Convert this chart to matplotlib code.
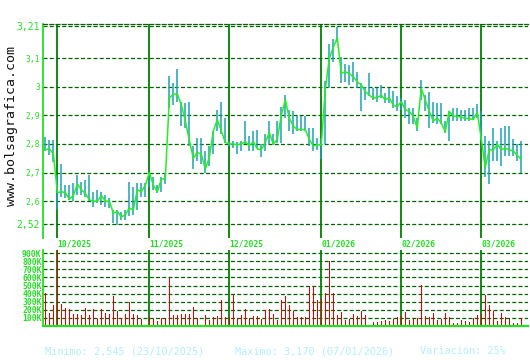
import matplotlib
matplotlib.use('Agg')
import matplotlib.pyplot as plt
import matplotlib.transforms as mtransforms

# ---------------- data ----------------
close = [2.78, 2.783, 2.765, 2.63, 2.633, 2.63, 2.607, 2.62, 2.66, 2.64,
         2.627, 2.605, 2.60, 2.60, 2.62, 2.60, 2.60, 2.558, 2.564, 2.545,
         2.553, 2.576, 2.57, 2.64, 2.633, 2.656, 2.70, 2.656, 2.633, 2.676,
         2.68, 2.96, 2.974, 2.974, 2.937, 2.88, 2.813, 2.75, 2.77, 2.764,
         2.713, 2.753, 2.845, 2.885, 2.845, 2.805, 2.80, 2.80, 2.797, 2.80,
         2.808, 2.793, 2.808, 2.782, 2.78, 2.805, 2.84, 2.80, 2.816, 2.90,
         2.954, 2.89, 2.862, 2.85, 2.85, 2.85, 2.816, 2.793, 2.797, 2.797,
         2.99, 3.098, 3.138, 3.17, 3.046, 3.052, 3.046, 3.034, 3.017, 3.006,
         2.983, 2.97, 2.96, 2.962, 2.97, 2.954, 2.962, 2.935, 2.93, 2.948,
         2.92, 2.914, 2.897, 2.856, 2.994, 2.954, 2.914, 2.88, 2.89, 2.874,
         2.843, 2.914, 2.897, 2.897, 2.893, 2.89, 2.888, 2.885, 2.91, 2.82,
         2.718, 2.78, 2.778, 2.80, 2.78, 2.785, 2.78, 2.776, 2.76, 2.747]

high = [2.825, 2.814, 2.814, 2.69, 2.73, 2.656, 2.656, 2.662, 2.69, 2.668,
        2.673, 2.69, 2.633, 2.64, 2.633, 2.62, 2.61, 2.57, 2.57, 2.564,
        2.57, 2.668, 2.65, 2.662, 2.662, 2.662, 2.702, 2.685, 2.656, 2.685,
        2.70, 3.038, 3.011, 3.063, 2.948, 2.943, 2.946, 2.793, 2.822, 2.822,
        2.776, 2.793, 2.845, 2.92, 2.948, 2.89, 2.81, 2.81, 2.808, 2.81,
        2.88, 2.828, 2.845, 2.847, 2.80, 2.833, 2.88, 2.833, 2.88, 2.93,
        2.97, 2.92, 2.914, 2.897, 2.897, 2.897, 2.856, 2.856, 2.822, 2.822,
        3.02, 3.15, 3.167, 3.207, 3.103, 3.08, 3.077, 3.086, 3.052, 3.011,
        3.0, 3.046, 2.994, 2.994, 3.006, 2.977, 2.994, 2.985, 2.966, 2.96,
        2.954, 2.925, 2.925, 2.89, 3.023, 2.971, 2.983, 2.948, 2.943, 2.943,
        2.88, 2.916, 2.925, 2.925, 2.92, 2.92, 2.925, 2.925, 2.94, 2.914,
        2.828, 2.81, 2.856, 2.81, 2.856, 2.862, 2.862, 2.816, 2.80, 2.81]

low = [2.777, 2.76, 2.737, 2.57, 2.616, 2.61, 2.605, 2.60, 2.62, 2.62,
       2.616, 2.60, 2.58, 2.593, 2.587, 2.58, 2.576, 2.524, 2.518, 2.535,
       2.535, 2.547, 2.553, 2.57, 2.616, 2.616, 2.65, 2.64, 2.628, 2.633,
       2.66, 2.925, 2.937, 2.948, 2.862, 2.856, 2.793, 2.713, 2.741, 2.73,
       2.70, 2.724, 2.764, 2.845, 2.833, 2.805, 2.793, 2.787, 2.764, 2.776,
       2.80, 2.776, 2.776, 2.787, 2.753, 2.776, 2.80, 2.795, 2.805, 2.805,
       2.89, 2.845, 2.833, 2.845, 2.845, 2.845, 2.793, 2.776, 2.78, 2.747,
       2.80, 2.994, 3.086, 3.155, 3.011, 3.017, 3.006, 3.017, 2.994, 2.916,
       2.954, 2.966, 2.954, 2.948, 2.96, 2.943, 2.943, 2.925, 2.914, 2.92,
       2.89, 2.868, 2.868, 2.845, 2.954, 2.914, 2.856, 2.874, 2.868, 2.868,
       2.839, 2.81, 2.88, 2.88, 2.88, 2.88, 2.88, 2.885, 2.89, 2.81,
       2.684, 2.659, 2.741, 2.741, 2.724, 2.758, 2.758, 2.758, 2.741, 2.70]

volume_k = [405, 165, 260, 940, 273, 223, 207, 150, 150, 136,
            223, 136, 207, 87, 207, 161, 150, 372, 186, 99,
            150, 298, 150, 136, 87, 12, 107, 87, 62, 99,
            99, 595, 136, 136, 150, 150, 150, 231, 99, 12,
            136, 74, 107, 124, 322, 107, 116, 384, 99, 136,
            207, 99, 124, 124, 87, 198, 207, 150, 74, 322,
            372, 260, 186, 107, 107, 107, 488, 496, 322, 331,
            405, 806, 405, 136, 178, 74, 87, 150, 124, 186,
            136, 12, 50, 50, 62, 74, 62, 87, 107, 120,
            174, 74, 87, 99, 504, 124, 107, 161, 74, 87,
            161, 107, 33, 33, 74, 62, 50, 99, 136, 150,
            384, 260, 186, 62, 161, 107, 87, 33, 33, 99]

month_labels = ['10/2025', '11/2025', '12/2025', '01/2026', '02/2026', '03/2026']
month_index = [3, 26, 46, 69, 89, 109]

price_ticks = [2.52, 2.6, 2.7, 2.8, 2.9, 3.0, 3.1, 3.21]
price_tick_labels = ['2,52', '2,6', '2,7', '2,8', '2,9', '3', '3,1', '3,21']
vol_ticks = [100, 200, 300, 400, 500, 600, 700, 800, 900]
vol_tick_labels = ['100K', '200K', '300K', '400K', '500K', '600K', '700K', '800K', '900K']

footer_min = 'Minimo: 2,545 (23/10/2025)'
footer_max = 'Maximo: 3,170 (07/01/2026)'
footer_var = 'Variación: 25%'
watermark = 'www.bolsagrafica.com'

# ---------------- styles ----------------
W, H = 530, 360
MONO = 'DejaVu Sans Mono'
GRID = '#006400'
MONTH = '#008000'
BRIGHT = '#22e022'
TEAL = '#1ba2b4'
LINE = '#22f022'
RED = '#e00000'
FOOT = '#b4eefa'

fig = plt.figure(figsize=(W / 100, H / 100), dpi=100)
fig.patch.set_facecolor('white')

x = list(range(len(close)))
xlim = (-0.6, 120.7)

# ---------------- price axes ----------------
ax = fig.add_axes([43 / W, 1 - 238 / H, 485 / W, 214 / H])
ax.set_xlim(*xlim)
ax.set_ylim(2.4716, 3.2187)
for t in price_ticks:
    ax.axhline(t, color=GRID, lw=0.9, dashes=(3.2, 1.8), zorder=1)
for m in month_index:
    ax.axvline(m, color=MONTH, lw=1.3, zorder=1.5)
ax.vlines(x, low, high, color=TEAL, lw=1.1, zorder=2)
ax.plot(x, close, color=LINE, lw=1.1, zorder=3)

ax.set_yticks(price_ticks)
ax.set_yticklabels(price_tick_labels, family=MONO, color=BRIGHT)
for lab in ax.get_yticklabels():
    if lab.get_text() in ('3,21', '2,52'):
        lab.set_fontsize(7)
    else:
        lab.set_fontsize(5.8)
ax.tick_params(axis='y', length=0, pad=2.2)
ax.set_xticks([])
for s in ('right', 'bottom'):
    ax.spines[s].set_visible(False)
ax.spines['top'].set_color(GRID)
ax.spines['top'].set_linestyle((0, (3.2, 1.8)))
ax.spines['top'].set_linewidth(0.9)
ax.spines['left'].set_color(BRIGHT)
ax.spines['left'].set_linewidth(1.3)

trans = mtransforms.blended_transform_factory(ax.transData, ax.transAxes)
for m, lab in zip(month_index, month_labels):
    ax.text(m, -0.028, lab, transform=trans, ha='left', va='center',
            family=MONO, fontsize=5.8, fontweight='bold', color=BRIGHT)

# ---------------- volume axes ----------------
axv = fig.add_axes([43 / W, 1 - 326 / H, 485 / W, 76 / H])
axv.set_xlim(*xlim)
axv.set_ylim(0, 940)
for t in vol_ticks:
    axv.axhline(t, color=GRID, lw=0.9, dashes=(3.2, 1.8), zorder=1)
for m in month_index:
    axv.axvline(m, color=MONTH, lw=1.3, zorder=1.5)
axv.bar(x, volume_k, width=0.3, color=RED, zorder=2)
axv.set_yticks(vol_ticks)
axv.set_yticklabels(vol_tick_labels, family=MONO, fontsize=5.8,
                    fontweight='bold', color=BRIGHT)
axv.tick_params(axis='y', length=0, pad=1)
axv.set_xticks([])
for s in ('right', 'top'):
    axv.spines[s].set_visible(False)
axv.spines['left'].set_color(BRIGHT)
axv.spines['left'].set_linewidth(1.3)
axv.spines['bottom'].set_color(BRIGHT)
axv.spines['bottom'].set_linewidth(1.6)

# ---------------- texts ----------------
fig.text(45 / W, 1 - 351 / H, footer_min, family=MONO, fontsize=7.4,
         color=FOOT, ha='left', va='center')
fig.text(235 / W, 1 - 351 / H, footer_max, family=MONO, fontsize=7.4,
         color=FOOT, ha='left', va='center')
fig.text(420 / W, 1 - 351 / H, footer_var, family=MONO, fontsize=7.4,
         color=FOOT, ha='left', va='center')
fig.text(12 / W, 1 - 126 / H, watermark, family=MONO, fontsize=9.5,
         color='#111111', rotation=90, ha='center', va='center')

fig.savefig('out.png', dpi=100, facecolor='white')
